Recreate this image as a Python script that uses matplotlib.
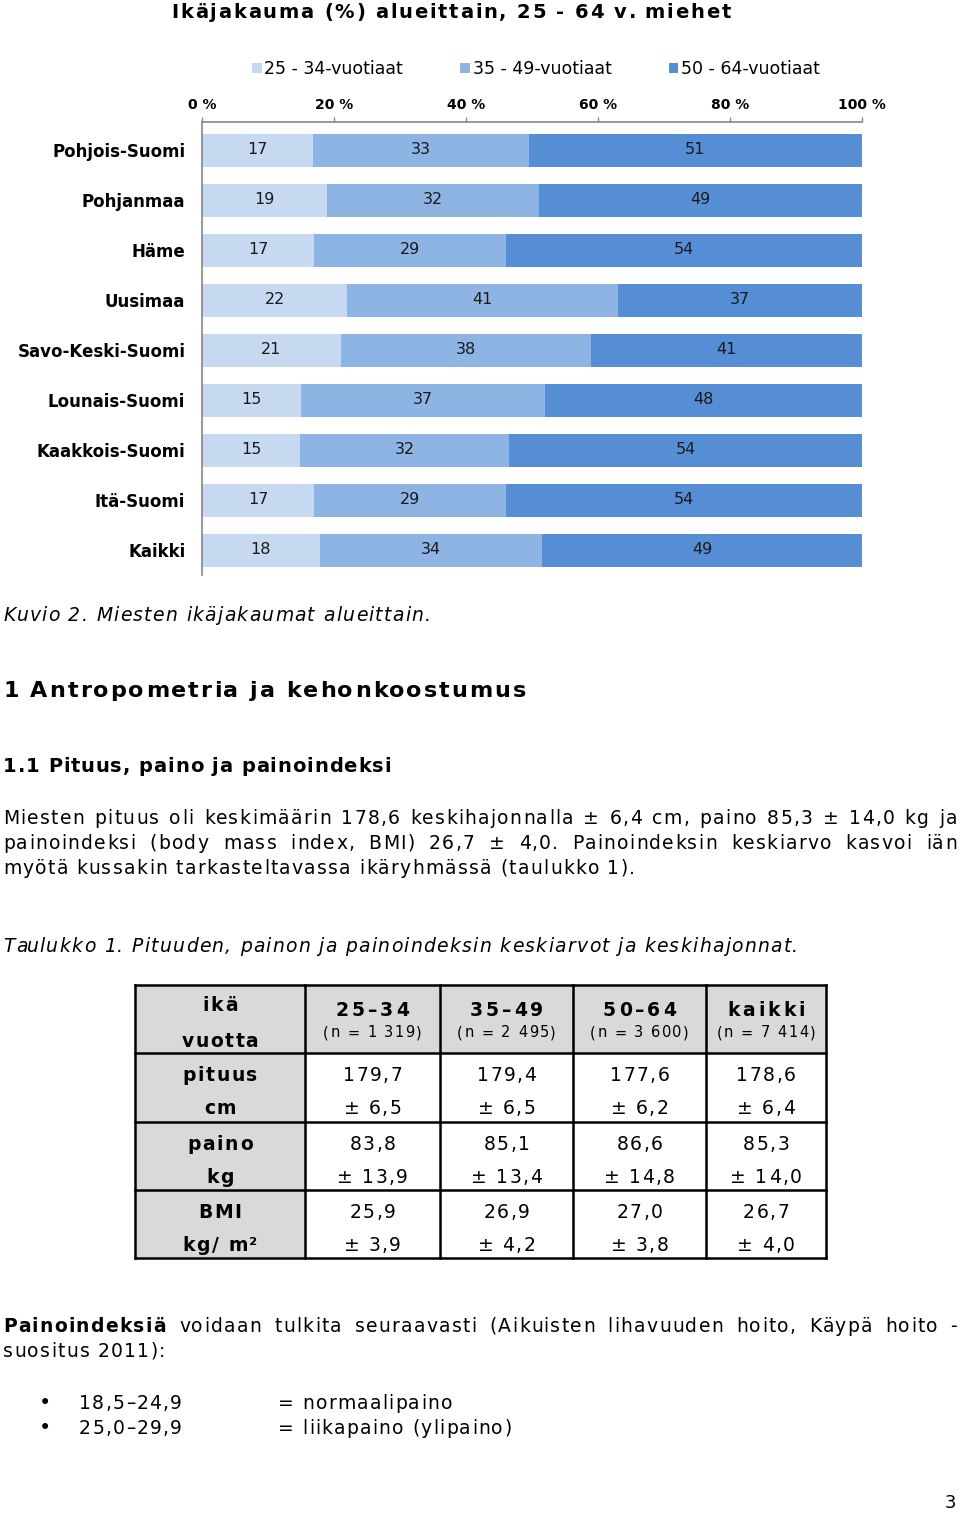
import matplotlib

matplotlib.use("Agg")

import matplotlib.pyplot as plt
import numpy as np
from matplotlib.font_manager import FontProperties
from matplotlib.patches import Rectangle

W, H = 960, 1513

# chart data
regions = ["Pohjois-Suomi", "Pohjanmaa", "Häme", "Uusimaa", "Savo-Keski-Suomi",
           "Lounais-Suomi", "Kaakkois-Suomi", "Itä-Suomi", "Kaikki"]
age_groups = ["25 - 34-vuotiaat", "35 - 49-vuotiaat", "50 - 64-vuotiaat"]
share_25_34 = [17, 19, 17, 22, 21, 15, 15, 17, 18]
share_35_49 = [33, 32, 29, 41, 38, 37, 32, 29, 34]
share_50_64 = [51, 49, 54, 37, 41, 48, 54, 54, 49]
colors = ["#C6D9F1", "#8EB4E3", "#558ED5"]
x_ticks = [0, 20, 40, 60, 80, 100]

# table data
table_cols = ["25\u201334", "35\u201349", "50\u201364", "kaikki"]
table_n = ["(n = 1 319)", "(n = 2 495)", "(n = 3 600)", "(n = 7 414)"]
table_rows = [("pituus", "cm"), ("paino", "kg"), ("BMI", "kg/ m²")]
table_means = [["179,7", "179,4", "177,6", "178,6"],
               ["83,8", "85,1", "86,6", "85,3"],
               ["25,9", "26,9", "27,0", "26,7"]]
table_sds = [["6,5", "6,5", "6,2", "6,4"],
             ["13,9", "13,4", "14,8", "14,0"],
             ["3,9", "4,2", "3,8", "4,0"]]

paragraph = [
    "Miesten pituus oli keskimäärin 178,6 keskihajonnalla ± 6,4 cm, paino 85,3 ± 14,0 kg ja",
    "painoindeksi (body mass index, BMI) 26,7 ± 4,0. Painoindeksin keskiarvo kasvoi iän",
    "myötä kussakin tarkasteltavassa ikäryhmässä (taulukko 1).",
]
bmi_text = [
    "Painoindeksiä voidaan tulkita seuraavasti (Aikuisten lihavuuden hoito, Käypä hoito -",
    "suositus 2011):",
]
bmi_ranges = ["18,5\u201324,9", "25,0\u201329,9"]
bmi_classes = ["= normaalipaino", "= liikapaino (ylipaino)"]

plt.rcParams["font.family"] = ["DejaVu Sans"]

fig = plt.figure(figsize=(W / 100, H / 100), dpi=100)

# ---- stacked bar chart ----
left, right, top, bottom = 202, 862, 122, 575
ax = fig.add_axes([left / W, 1 - bottom / H, (right - left) / W, (bottom - top) / H])
values = np.array([share_25_34, share_35_49, share_50_64], dtype=float)
pct = values / values.sum(axis=0) * 100
y = np.arange(len(regions))
start = np.zeros(len(regions))
for i, label in enumerate(age_groups):
    bars = ax.barh(y, pct[i], left=start, height=0.66, color=colors[i], label=label)
    ax.bar_label(bars, labels=[str(v) for v in values[i].astype(int)],
                 label_type="center", fontsize=11.5, color="#1a1a1a")
    start += pct[i]

ax.set_xlim(0, 100)
ax.set_ylim(8.5, -0.56)
ax.set_yticks(y)
ax.set_yticklabels(regions, fontsize=12, fontweight="bold")
ax.tick_params(axis="y", length=0, pad=12)
ax.xaxis.tick_top()
ax.set_xticks(x_ticks)
ax.set_xticklabels([f"{t} %" for t in x_ticks], fontsize=10, fontweight="bold")
ax.tick_params(axis="x", length=3.5, color="#868686", width=1, pad=4)
for side in ("right", "bottom"):
    ax.spines[side].set_visible(False)
for side in ("left", "top"):
    ax.spines[side].set_color("#868686")
    ax.spines[side].set_linewidth(1.2)

fig.legend(loc="center", bbox_to_anchor=(536 / W, 1 - 69 / H), ncol=3, frameon=False,
           fontsize=12.5, handlelength=0.55, handleheight=0.55, handletextpad=0.15,
           columnspacing=3.3)

# ---- page text and table, drawn in pixel coordinates ----
page = fig.add_axes([0, 0, 1, 1])
page.set_xlim(0, W)
page.set_ylim(H, 0)
page.axis("off")
page.set_zorder(-1)

renderer = fig.canvas.get_renderer()


def text_w(s, fp):
    return renderer.get_text_width_height_descent(s, fp, ismath=False)[0]


def tracked(x, y, s, size, track=0.0, ha="left", weight="normal", style="normal"):
    # text with extra letter spacing, y is the visual centre of the line
    fp = FontProperties(family="DejaVu Sans", size=size, weight=weight, style=style)
    bar = text_w("|", fp)
    width = text_w(s, fp) + track * (len(s) - 1)
    x0 = {"left": x, "center": x - width / 2, "right": x - width}[ha]
    yb = y + 0.3 * size * 100 / 72
    for k, ch in enumerate(s):
        if ch == " ":
            continue
        adv = text_w(s[:k] + "|", fp) - bar if k else 0.0
        page.text(x0 + adv + k * track, yb, ch, va="baseline", ha="left",
                  fontproperties=fp)
    return width


def justify(line, y, size, track, x0=3, x1=957, bold_first=False):
    words = line.split()
    weights = ["bold" if (bold_first and j == 0) else "normal" for j in range(len(words))]
    widths = []
    for w, wt in zip(words, weights):
        fp = FontProperties(family="DejaVu Sans", size=size, weight=wt)
        widths.append(text_w(w, fp) + track * (len(w) - 1))
    gap = (x1 - x0 - sum(widths)) / (len(words) - 1)
    x = x0
    for w, wt, wd in zip(words, weights, widths):
        tracked(x, y, w, size, track, weight=wt)
        x += wd + gap


tracked(451, 12, "Ikäjakauma (%) alueittain, 25 - 64 v. miehet", 14, 1.8,
        ha="center", weight="bold")

body, bt = 13.5, 1.3
tracked(3, 615, "Kuvio 2. Miesten ikäjakaumat alueittain.", body, bt, style="italic")
tracked(3, 690, "1 Antropometria ja kehonkoostumus", 16, 2.0, weight="bold")
tracked(3, 766, "1.1 Pituus, paino ja painoindeksi", 14, 0.9, weight="bold")
justify(paragraph[0], 818, body, bt)
justify(paragraph[1], 843, body, bt)
tracked(3, 868, paragraph[2], body, bt)
tracked(3, 946, "Taulukko 1. Pituuden, painon ja painoindeksin keskiarvot ja keskihajonnat.",
        body, bt, style="italic")

# table
col_edges = [135, 305, 440, 573, 706, 826]
row_edges = [985, 1053, 1122, 1190, 1258]
gray = "#D9D9D9"
page.add_patch(Rectangle((col_edges[0], row_edges[0]), col_edges[-1] - col_edges[0],
                         row_edges[1] - row_edges[0], color=gray, lw=0))
page.add_patch(Rectangle((col_edges[0], row_edges[1]), col_edges[1] - col_edges[0],
                         row_edges[-1] - row_edges[1], color=gray, lw=0))
for xe in col_edges:
    page.plot([xe, xe], [row_edges[0], row_edges[-1]], color="black", lw=1.8,
              solid_capstyle="projecting")
for ye in row_edges:
    page.plot([col_edges[0], col_edges[-1]], [ye, ye], color="black", lw=1.8,
              solid_capstyle="projecting")

centers = [(a + b) / 2 for a, b in zip(col_edges[:-1], col_edges[1:])]
tbl = 13.5
tracked(centers[0], 1005, "ikä", tbl, 1.6, ha="center", weight="bold")
tracked(centers[0], 1041, "vuotta", tbl, 1.6, ha="center", weight="bold")
for c, head, n in zip(centers[1:], table_cols, table_n):
    tracked(c, 1010, head, tbl, 3.0, ha="center", weight="bold")
    tracked(c, 1033, n, 10.5, 1.5, ha="center")
for r, (name, unit) in enumerate(table_rows):
    y0 = row_edges[r + 1]
    tracked(centers[0], y0 + 22, name, tbl, 1.6, ha="center", weight="bold")
    tracked(centers[0], y0 + 55, unit, tbl, 1.6, ha="center", weight="bold")
    for c, m, s in zip(centers[1:], table_means[r], table_sds[r]):
        tracked(c, y0 + 22, m, tbl, 1.5, ha="center")
        tracked(c, y0 + 55, f"± {s}", tbl, 1.5, ha="center")

justify(bmi_text[0], 1326, body, bt, bold_first=True)
tracked(3, 1351, bmi_text[1], body, bt)
for yy, rng, cls in zip([1403, 1428], bmi_ranges, bmi_classes):
    page.text(45, yy, "•", ha="center", va="center", fontsize=15)
    tracked(79, yy, rng, body, bt)
    tracked(278, yy, cls, body, bt)
tracked(950, 1503, "3", 13, 0, ha="center")

fig.savefig("out.png", dpi=100)
